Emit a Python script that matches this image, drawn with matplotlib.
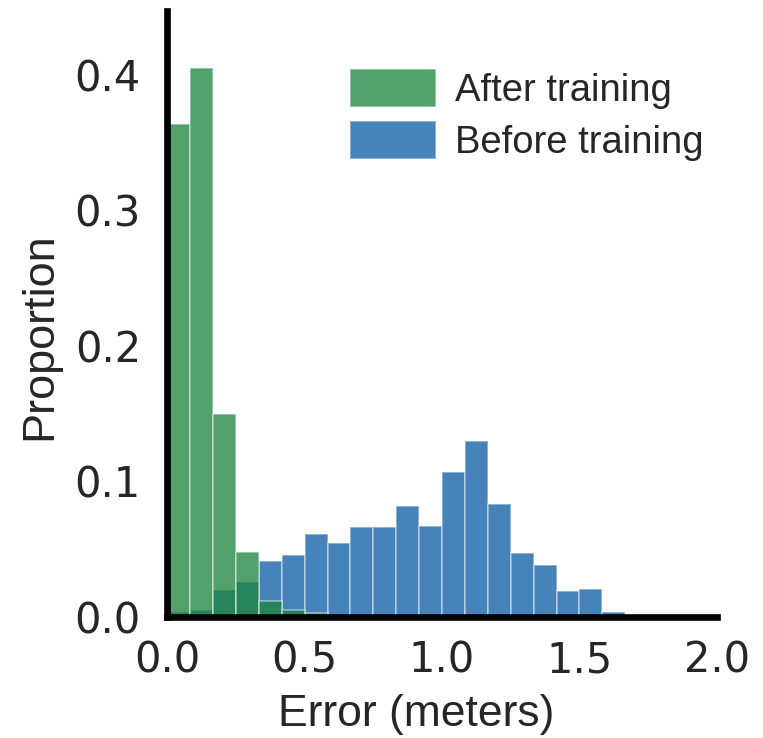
import numpy as np
import matplotlib
matplotlib.use('Agg')
import matplotlib.pyplot as plt

# Histogram bins (meters)
bin_edges = np.linspace(0, 2, 25)
# Proportion per bin
after_training = [0.3636, 0.4054, 0.1500, 0.0480, 0.0115, 0.0055, 0.0028, 0, 0, 0, 0, 0,
                  0, 0, 0, 0, 0, 0, 0, 0, 0, 0, 0, 0]
before_training = [0.0040, 0.0050, 0.0196, 0.0255, 0.0415, 0.0455, 0.0615, 0.0546,
                   0.0664, 0.0664, 0.0822, 0.0674, 0.1070, 0.1300, 0.0831, 0.0474,
                   0.0386, 0.0194, 0.0206, 0.0036, 0, 0, 0, 0]
x_ticks = [0.0, 0.5, 1.0, 1.5, 2.0]
y_ticks = [0.0, 0.1, 0.2, 0.3, 0.4]

txt = '#262626'
lab_font = ['Liberation Sans', 'DejaVu Sans']

fig = plt.figure(figsize=(7.63, 7.38), dpi=100)
ax = fig.add_axes([0.2193, 0.1640, 0.7201, 0.8207])

centers = (bin_edges[:-1] + bin_edges[1:]) / 2
edge = (1, 1, 1, 0.45)
ax.hist(centers, bins=bin_edges, weights=before_training, color='#4683bb',
        edgecolor=edge, linewidth=1.2, label='Before training')
ax.hist(centers, bins=bin_edges, weights=after_training,
        facecolor=(30/255, 132/255, 62/255, 0.77),
        edgecolor=edge, linewidth=1.2, label='After training')

ax.set_xlim(0, 2)
ax.set_ylim(0, 0.447)
ax.set_xticks(x_ticks)
ax.set_xticklabels([f'{v:.1f}' for v in x_ticks])
ax.set_yticks(y_ticks)
ax.set_yticklabels([f'{v:.1f}' for v in y_ticks])

for s in ['top', 'right']:
    ax.spines[s].set_visible(False)
for s in ['left', 'bottom']:
    ax.spines[s].set_linewidth(4.8)
    ax.spines[s].set_color('black')

ax.tick_params(length=0, labelsize=30, labelcolor=txt)
ax.tick_params(axis='x', pad=16.5)
ax.tick_params(axis='y', pad=19)

ax.set_xlabel('Error (meters)', fontsize=32, color=txt, family=lab_font)
ax.xaxis.set_label_coords(0.4535, -0.128)
ax.set_ylabel('Proportion', fontsize=32.5, color=txt, family=lab_font)
ax.yaxis.label.set_va('center')
ax.yaxis.set_label_coords(-0.2316, 0.4637)

h, l = ax.get_legend_handles_labels()
ax.legend(h[::-1], l[::-1], loc='upper left', bbox_to_anchor=(0.3326, 0.905),
          frameon=False, borderaxespad=0, borderpad=0, handlelength=2.25,
          handleheight=1.15, handletextpad=0.5, labelspacing=0.32,
          prop={'family': lab_font, 'size': 27.5}, labelcolor=txt)

fig.savefig('out.png', dpi=100)
